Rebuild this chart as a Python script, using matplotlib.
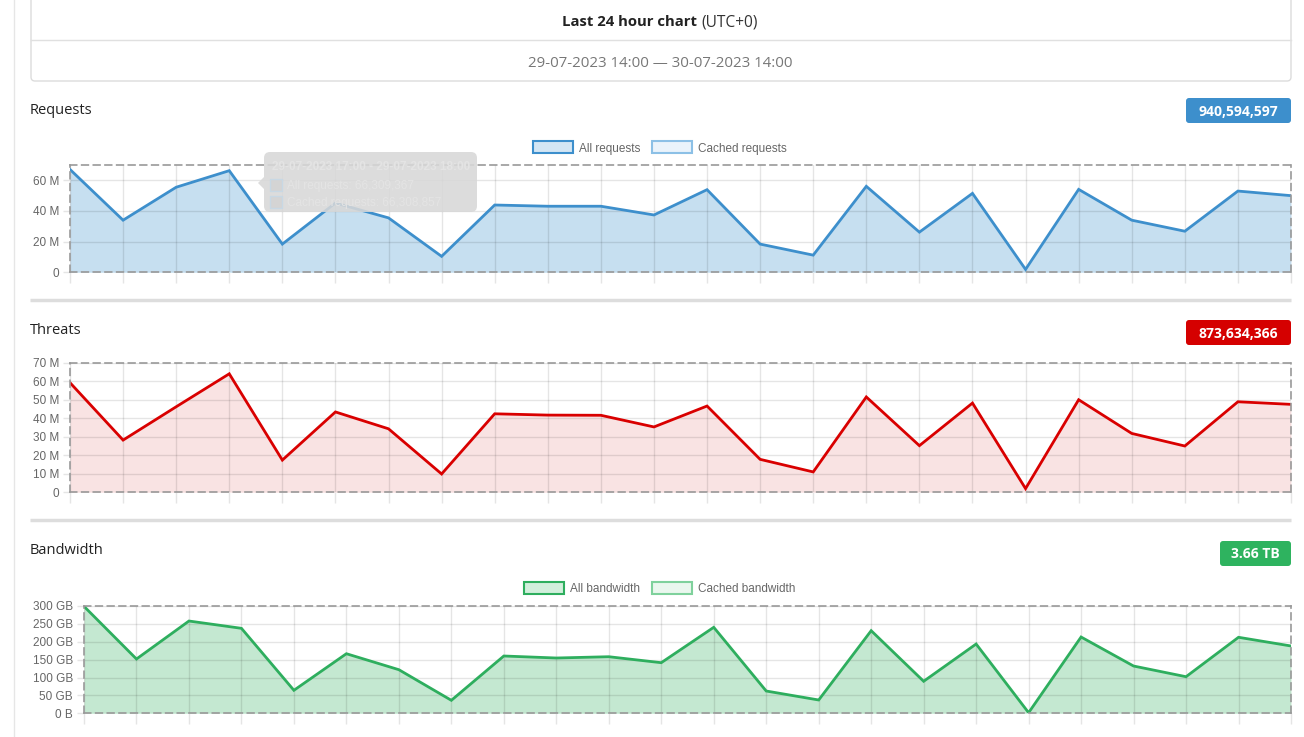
import matplotlib
matplotlib.use('Agg')
import matplotlib.pyplot as plt
from matplotlib.patches import Rectangle, FancyBboxPatch, Polygon
import numpy as np

W, H = 1304, 737

# hourly values, 29-07-2023 14:00 .. 30-07-2023 13:00
requests = [67.1, 34.0, 55.5, 66.3, 18.4, 45.2, 35.5, 10.4, 43.9, 43.1, 43.1, 37.4,
            53.9, 18.4, 11.2, 56.1, 26.2, 51.5, 1.9, 54.1, 34.0, 26.8, 53.0, 50.0]  # millions
threats = [59.2, 28.2, 46.2, 64.0, 17.4, 43.4, 34.3, 9.9, 42.4, 41.7, 41.6, 35.3,
           46.6, 17.8, 11.0, 51.5, 25.2, 48.2, 2.0, 50.0, 31.8, 25.0, 48.9, 47.5]  # millions
bandwidth = [299, 151.8, 258, 237.6, 64.3, 166.6, 121.9, 36.3, 160.2, 154.6, 158.2, 141.5,
             240.4, 62.3, 37.2, 231, 89.5, 193.7, 1.7, 213.3, 132.2, 102.3, 212.5, 188.2]  # GB

req_ticks = [0, 20, 40, 60]
req_labels = ['0', '20 M', '40 M', '60 M']
thr_ticks = [0, 10, 20, 30, 40, 50, 60, 70]
thr_labels = ['0', '10 M', '20 M', '30 M', '40 M', '50 M', '60 M', '70 M']
bw_ticks = [0, 50, 100, 150, 200, 250, 300]
bw_labels = ['0 B', '50 GB', '100 GB', '150 GB', '200 GB', '250 GB', '300 GB']

title_font = ['Open Sans', 'DejaVu Sans']
tick_font = ['Liberation Sans', 'DejaVu Sans']

fig = plt.figure(figsize=(W / 100, H / 100), dpi=100)
fig.patch.set_facecolor('white')

# background axes in pixel coords
bg = fig.add_axes([0, 0, 1, 1], zorder=0)
bg.set_xlim(0, W)
bg.set_ylim(H, 0)
bg.axis('off')


def px_axes(x0, y0, x1, y1, z=2):
    return fig.add_axes([x0 / W, 1 - y1 / H, (x1 - x0) / W, (y1 - y0) / H], zorder=z)


# page elements
bg.plot([14, 14], [0, H], color='#e6e6e6', lw=1)
bg.add_patch(FancyBboxPatch((31, -10), 1260, 91, boxstyle='round,pad=0,rounding_size=4',
                            fc='white', ec='#dcdcdc', lw=1))
bg.plot([31, 1291], [40, 40], color='#e0e0e0', lw=1)
bg.text(562, 22, 'Last 24 hour chart', ha='left', va='center', fontsize=10.7,
        fontweight='bold', family=title_font, color='#222')
bg.text(701, 22, '(UTC+0)', ha='left', va='center', fontsize=11.2, family=title_font, color='#333')
bg.text(660, 63, '29-07-2023 14:00 — 30-07-2023 14:00', ha='center', va='center',
        fontsize=10.8, family=title_font, color='#777')

for y in [300, 520]:
    bg.plot([30, 1291], [y, y], color='#dddddd', lw=2.5, solid_capstyle='butt')

sections = [
    ('Requests', 110, '940,594,597', '#3d8fcc', 1186, 98),
    ('Threats', 330, '873,634,366', '#d50000', 1186, 320),
    ('Bandwidth', 550, '3.66 TB', '#2eb35f', 1220, 541),
]
for name, ty, badge, bcol, bx, by in sections:
    bg.text(30, ty, name, ha='left', va='center', fontsize=10.5, family=title_font, color='#222')
    bg.add_patch(FancyBboxPatch((bx, by), 1291 - bx, 25, boxstyle='round,pad=0,rounding_size=3',
                                fc=bcol, ec='none'))
    bg.text((bx + 1291) / 2, by + 13.5, badge, ha='center', va='center', fontsize=10,
            fontweight='bold', family=title_font, color='white')

# legends
legends = [
    (147, [(533, 'All requests', '#3d8fcc', '#d4e6f4'), (652, 'Cached requests', '#8cc0e6', '#eaf3fb')]),
    (588, [(524, 'All bandwidth', '#2eae5e', '#d2efdc'), (652, 'Cached bandwidth', '#7fd19c', '#eaf7ee')]),
]
for ly, items in legends:
    for lx, label, ec, fc in items:
        bg.add_patch(Rectangle((lx, ly - 6), 40, 12, fc=fc, ec=ec, lw=1.5))
        bg.text(lx + 46, ly + 1.5, label, ha='left', va='center', fontsize=8.5, family=tick_font, color='#666')


def chart(box, values, ymax, ticks, labels, line_col, fill_col):
    ax = px_axes(*box)
    x = np.arange(len(values))
    ax.fill_between(x, values, 0, color=fill_col, lw=0, zorder=1)
    ax.plot(x, values, color=line_col, lw=2, zorder=3, solid_joinstyle='miter')
    ax.set_xlim(0, len(values) - 1)
    ax.set_ylim(0, ymax)
    ax.set_xticks(x)
    ax.set_xticklabels([])
    ax.set_yticks(ticks)
    ax.set_yticklabels(labels, family=tick_font, fontsize=8.5, color='#666')
    ax.grid(True, color='#000000', alpha=0.1, lw=1, zorder=2)
    ax.set_axisbelow(False)
    ax.tick_params(axis='x', length=8, color='#e5e5e5', width=1)
    ax.tick_params(axis='y', length=5, color='#e5e5e5', width=1, pad=3)
    ax.set_facecolor('none')
    for s in ax.spines.values():
        s.set_linestyle((0, (4, 3)))
        s.set_color('#999999')
        s.set_linewidth(1.2)
        s.set_zorder(4)
    return ax


ax_r = chart((70, 165, 1291, 272.3), requests, 70, req_ticks, req_labels, '#3d8fcc', '#c6dff0')
ax_t = chart((70, 362.7, 1291, 492.3), threats, 70, thr_ticks, thr_labels, '#d90000', '#f9e3e3')
ax_b = chart((84, 606, 1291, 713.3), bandwidth, 300, bw_ticks, bw_labels, '#2eae5e', '#c4e8d1')

# faded tooltip over the requests chart
ov = fig.add_axes([0, 0, 1, 1], zorder=10)
ov.set_xlim(0, W)
ov.set_ylim(H, 0)
ov.axis('off')
ov.patch.set_alpha(0)
ov.add_patch(FancyBboxPatch((264, 152), 213, 60, boxstyle='round,pad=0,rounding_size=6',
                            fc='#d8d8d8', ec='none', alpha=0.88))
ov.add_patch(Polygon([[264, 177], [258, 183], [264, 189]], closed=True, fc='#d8d8d8', ec='none', alpha=0.88))
ov.text(272, 167, '29-07-2023 17:00 - 29-07-2023 18:00', fontsize=8.5, fontweight='bold',
        family=tick_font, color='#e4e4e4', va='center')
ov.add_patch(Rectangle((270, 179), 12, 12, fc='#d4d4d4', ec='#c8d8e4', lw=1))
ov.add_patch(Rectangle((270, 196), 12, 12, fc='#d4d4d4', ec='#c8d8e4', lw=1))
ov.text(287, 186, 'All requests: 66,309,367', fontsize=8.5, family=tick_font, color='#e4e4e4', va='center')
ov.text(287, 203, 'Cached requests: 66,308,857', fontsize=8.5, family=tick_font, color='#e4e4e4', va='center')

plt.savefig('out.png', dpi=100)
